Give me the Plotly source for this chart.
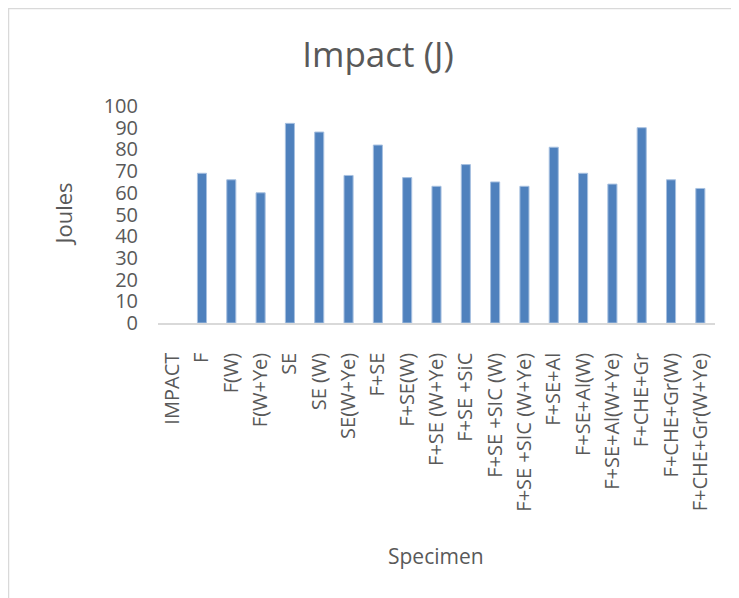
import plotly.graph_objects as go

categories = ["IMPACT", "F", "F(W)", "F(W+Ye)", "SE", "SE (W)", "SE(W+Ye)", "F+SE",
              "F+SE(W)", "F+SE (W+Ye)", "F+SE +SiC", "F+SE +SIC (W)", "F+SE +SIC (W+Ye)",
              "F+SE+Al", "F+SE+Al(W)", "F+SE+Al(W+Ye)", "F+CHE+Gr", "F+CHE+Gr(W)",
              "F+CHE+Gr(W+Ye)"]
impact_joules = [None, 69, 66, 60, 92, 88, 68, 82, 67, 63, 73, 65, 63, 81, 69, 64, 90, 66, 62]
y_ticks = [0, 10, 20, 30, 40, 50, 60, 70, 80, 90, 100]

# the page body has an 8px margin, so the figure is drawn 8px in from the window corner
OFF = 8
W, H = 739 - OFF, 598 - OFF
L, R, T, B = 158 - OFF, 24, 106 - OFF, 275
pw, ph = W - L - R, H - T - B

def px_x(x):  # window pixel -> paper coordinate
    return (x - OFF - L) / pw

def px_y(y):
    return (H - B - (y - OFF)) / ph

txt = "#595959"
font = "Open Sans"

fig = go.Figure(go.Bar(
    x=categories, y=impact_joules,
    marker=dict(color="#4F81BD", line=dict(color="#A7C0E0", width=1)),
))

fig.update_layout(
    width=W, height=H,
    margin=dict(l=L, r=R, t=T, b=B, autoexpand=False),
    paper_bgcolor="white", plot_bgcolor="white",
    bargap=0.69,
    showlegend=False,
    font=dict(family=font, color=txt, size=20),
    title=dict(text="Impact (J)", x=(378 - OFF) / W, xanchor="center",
               y=1 - (55 - OFF) / H, yanchor="middle", xref="container", yref="container",
               font=dict(family=font, size=35, color=txt)),
    xaxis=dict(type="category", tickangle=-90, showgrid=False, showline=True,
               linecolor="#D9D9D9", linewidth=1.5, ticks="", ticklabelstandoff=20,
               tickfont=dict(size=20, color=txt), automargin=False),
    yaxis=dict(range=[0, 100], tickvals=y_ticks, showgrid=False, showline=False,
               zeroline=False, ticks="", ticklabelstandoff=19,
               tickfont=dict(size=20, color=txt), automargin=False),
    annotations=[
        dict(text="Joules", textangle=-90, x=px_x(62), y=0.5, xref="paper", yref="paper",
             showarrow=False, font=dict(size=22, color=txt, family=font),
             xanchor="center", yanchor="middle"),
        dict(text="Specimen", x=px_x(436), y=px_y(556), xref="paper", yref="paper",
             showarrow=False, font=dict(size=21, color=txt, family=font),
             xanchor="center", yanchor="middle"),
    ],
    shapes=[
        dict(type="rect", xref="paper", yref="paper", x0=px_x(8.5), x1=px_x(760),
             y0=px_y(620), y1=px_y(8.5), line=dict(color="#D9D9D9", width=1.5),
             fillcolor="rgba(0,0,0,0)", layer="below"),
    ],
)

fig.write_html("out.html")
